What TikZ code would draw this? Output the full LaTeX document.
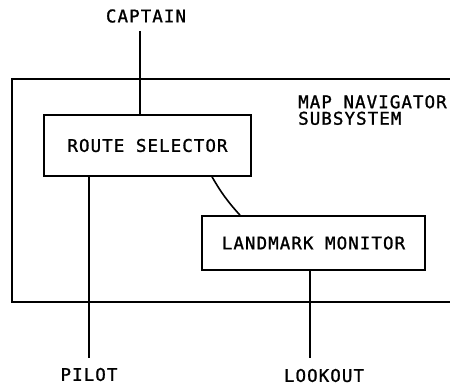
\documentclass[tikz,border=0pt]{standalone}
\usepackage{fontspec}
\setmonofont[LetterSpace=6,FakeBold=1.2]{DejaVu Sans Mono}
\begin{document}
\begin{tikzpicture}[x=1pt,y=1pt,
  every node/.style={font=\ttfamily\fontsize{17.5}{16.5}\selectfont},
  box/.style={draw,line width=1.6pt,minimum width=#1,inner sep=0pt},
  lbl/.style={inner sep=0pt},
  conn/.style={line width=1.6pt}]
\useasboundingbox (0,0) rectangle (450,386);
% subsystem frame (open on right)
\draw[conn] (452,307) -- (12,307) -- (12,84) -- (452,84);
\node[lbl,anchor=north west,align=left] (sub) at (298,291) {MAP NAVIGATOR\\SUBSYSTEM};
\node[box=207pt,minimum height=61pt] (route) at (147.5,240.5) {ROUTE SELECTOR};
\node[box=223pt,minimum height=54pt] (land) at (313.5,143) {LANDMARK MONITOR};
\node[lbl] (captain) at (146,370) {CAPTAIN};
\node[lbl] (pilot) at (89,11.5) {PILOT};
\node[lbl] (lookout) at (324,10.5) {LOOKOUT};
\coordinate (capend) at (140,355);
\coordinate (pilend) at (89,28);
\coordinate (lookend) at (310,28);
\draw[conn] (capend) -- (capend |- route.north);
\draw[conn] (pilend |- route.south) -- (pilend);
\draw[conn] (lookend |- land.south) -- (lookend);
\draw[conn] (212,0 |- route.south) to[bend right=6] (240,0 |- land.north);
\end{tikzpicture}
\end{document}
